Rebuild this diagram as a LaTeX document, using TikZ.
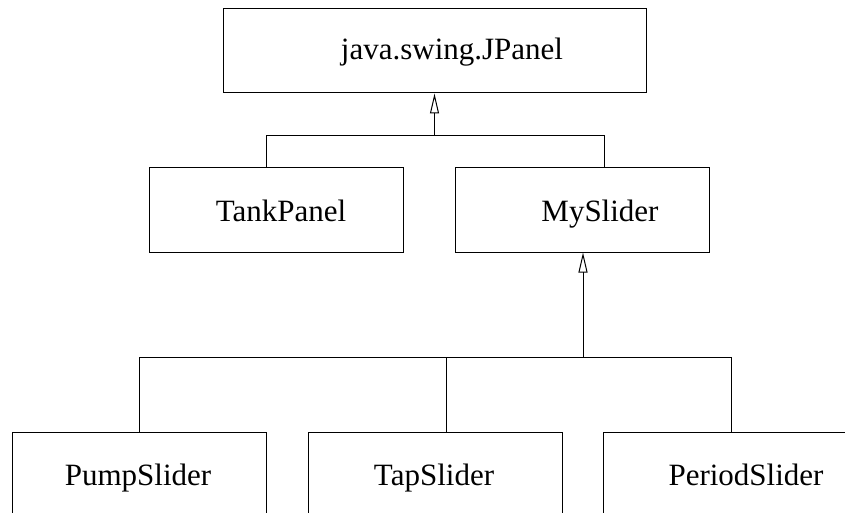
\documentclass[tikz,border=0pt]{standalone}
\usepackage{fontspec}
\setmainfont{Liberation Serif}
\usetikzlibrary{arrows.meta}
\tikzset {>={Triangle[open,length=20pt,width=9pt]}}

\begin{document}
\begin{tikzpicture}[x=1pt,y=-1pt,line width=1pt,
  box/.style={draw,minimum width=254pt,minimum height=84pt,inner sep=0pt},
  classname/.style={anchor=base,font=\fontsize{31}{36}\selectfont}]

\useasboundingbox (0,0) rectangle (845,513);
\clip (0,0) rectangle (845,513);

% Place the classes
\node[box,minimum width=423pt] (panel) at (434.5,51) {};
\node[box] (tank) at (276,210) {};
\node[box] (slider) at (582.5,210) {};
\node[box] (pump) at (139,474) {};
\node[box] (tap) at (435,474) {};
\node[box] (period) at (730,474) {};

% Class names
\node[classname] (panel-t) at (452,60) {java.swing.JPanel};
\node[classname] (tank-t) at (281,221) {TankPanel};
\node[classname] (slider-t) at (600,221) {MySlider};
\node[classname] (pump-t) at (138,485) {PumpSlider};
\node[classname] (tap-t) at (434,485) {TapSlider};
\node[classname] (period-t) at (746,485) {PeriodSlider};

% Inheritance from JPanel
\coordinate (up-join) at (434.5,136);
\coordinate (up-left) at (266,136);
\coordinate (up-right) at (604,136);
\draw (tank.north -| up-left) -- (up-left) -- (up-right) -- (slider.north -| up-right);
\draw [->] (up-join) -- (panel.south);

% Inheritance from MySlider
\coordinate (low-join) at (583,357);
\coordinate (low-left) at (139,357);
\coordinate (low-mid) at (446,357);
\coordinate (low-right) at (731,357);
\draw (pump.north -| low-left) -- (low-left) -- (low-right) -- (period.north -| low-right);
\draw (low-mid) -- (tap.north -| low-mid);
\draw [->] (low-join) -- (slider.south -| low-join);

\end{tikzpicture}
\end{document}
